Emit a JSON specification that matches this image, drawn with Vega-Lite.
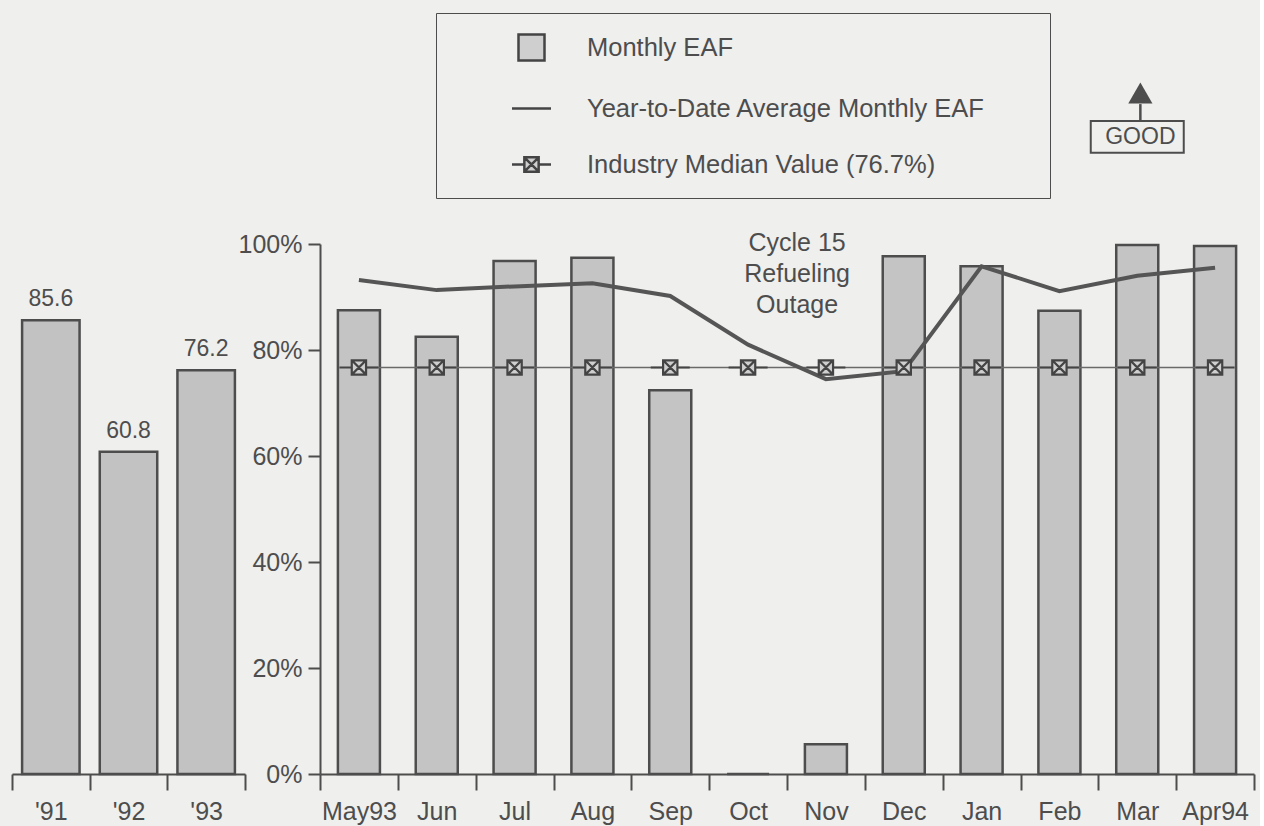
{
  "$schema": "https://vega.github.io/schema/vega-lite/v6.json",
  "background": "#efefed",
  "padding": {"left": 11, "top": 12, "right": 5, "bottom": 5},
  "bounds": "flush",
  "spacing": 75,
  "config": {
    "font": "Liberation Sans",
    "view": {"stroke": null},
    "axis": {
      "domainColor": "#4d4d4d", "domainWidth": 2, "tickColor": "#4d4d4d", "tickWidth": 2,
      "labelColor": "#4d4d4d", "labelFontSize": 25, "labelFont": "Liberation Sans",
      "grid": false, "title": null
    }
  },
  "datasets": {
    "annual": [
      {"year": "'91", "eaf": 85.6},
      {"year": "'92", "eaf": 60.8},
      {"year": "'93", "eaf": 76.2}
    ],
    "monthly": [
      {"month": "May93", "eaf": 87.5, "ytd": 93.2, "median": 76.7},
      {"month": "Jun", "eaf": 82.5, "ytd": 91.3, "median": 76.7},
      {"month": "Jul", "eaf": 96.8, "ytd": 92.0, "median": 76.7},
      {"month": "Aug", "eaf": 97.4, "ytd": 92.6, "median": 76.7},
      {"month": "Sep", "eaf": 72.4, "ytd": 90.2, "median": 76.7},
      {"month": "Oct", "eaf": 0, "ytd": 81.0, "median": 76.7},
      {"month": "Nov", "eaf": 5.6, "ytd": 74.5, "median": 76.7},
      {"month": "Dec", "eaf": 97.7, "ytd": 76.0, "median": 76.7},
      {"month": "Jan", "eaf": 95.8, "ytd": 95.8, "median": 76.7},
      {"month": "Feb", "eaf": 87.4, "ytd": 91.1, "median": 76.7},
      {"month": "Mar", "eaf": 99.8, "ytd": 94.0, "median": 76.7},
      {"month": "Apr94", "eaf": 99.6, "ytd": 95.5, "median": 76.7}
    ],
    "single": [{"n": 1}]
  },
  "hconcat": [
    {
      "width": 233,
      "height": 530,
      "data": {"name": "annual"},
      "encoding": {
        "x": {
          "field": "year", "type": "nominal", "sort": null,
          "scale": {"paddingInner": 0, "paddingOuter": 0},
          "axis": {"tickBand": "extent", "tickSize": 16, "labelPadding": 9, "labelAngle": 0}
        },
        "y": {"field": "eaf", "type": "quantitative", "scale": {"domain": [0, 100]}, "axis": null}
      },
      "layer": [
        {"mark": {"type": "bar", "width": {"band": 0.74}, "fill": "#c2c2c2", "stroke": "#4d4d4d", "strokeWidth": 2.5}},
        {
          "mark": {"type": "text", "baseline": "alphabetic", "dy": -14, "fontSize": 23, "fill": "#4d4d4d"},
          "encoding": {"text": {"field": "eaf", "type": "quantitative", "format": ".1f"}}
        }
      ]
    },
    {
      "width": 934,
      "height": 530,
      "encoding": {
        "x": {
          "field": "month", "type": "nominal", "sort": null,
          "scale": {"paddingInner": 0, "paddingOuter": 0},
          "axis": {"tickBand": "extent", "tickSize": 16, "labelPadding": 9, "labelAngle": 0}
        }
      },
      "layer": [
        {
          "data": {"name": "monthly"},
          "mark": {"type": "bar", "width": {"band": 0.54}, "fill": "#c4c4c4", "stroke": "#4d4d4d", "strokeWidth": 2.5},
          "encoding": {
            "y": {
              "field": "eaf", "type": "quantitative",
              "scale": {"domain": [0, 100]},
              "axis": {"values": [0, 20, 40, 60, 80, 100], "labelExpr": "datum.value + '%'", "tickSize": 12, "labelPadding": 6}
            }
          }
        },
        {
          "data": {"name": "monthly"},
          "mark": {"type": "line", "strokeWidth": 1.6, "color": "#6a6a6a"},
          "encoding": {"y": {"field": "median", "type": "quantitative"}}
        },
        {
          "data": {"name": "monthly"},
          "mark": {"type": "line", "strokeWidth": 4, "color": "#555555", "interpolate": "linear"},
          "encoding": {"y": {"field": "ytd", "type": "quantitative"}}
        },
        {
          "data": {"name": "monthly"},
          "mark": {"type": "point", "size": 676, "filled": false, "fill": "#cfcfcf", "stroke": "#444444", "strokeWidth": 2.2, "opacity": 1, "fillOpacity": 1, "strokeOpacity": 1},
          "encoding": {
            "y": {"field": "median", "type": "quantitative"},
            "shape": {
              "datum": "Industry Median Value (76.7%)",
              "scale": {
                "domain": ["Monthly EAF", "Year-to-Date Average Monthly EAF", "Industry Median Value (76.7%)"],
                "range": ["square", "M-1.5,0H1.5", "M-1.5,0H-0.55M0.55,0H1.5M-0.55,-0.55H0.55V0.55H-0.55ZM-0.55,-0.55L0.55,0.55M0.55,-0.55L-0.55,0.55"]
              },
              "legend": {
                "orient": "none", "legendX": 424, "legendY": -231, "direction": "vertical",
                "title": " ", "titleOrient": "right", "titlePadding": 45, "titleFontSize": 12,
                "padding": 20, "symbolOffset": 61, "labelOffset": 41, "rowPadding": 28, "symbolSize": 676,
                "symbolStrokeWidth": 2.5, "symbolOpacity": 1,
                "labelFontSize": 25.5, "labelColor": "#4d4d4d", "labelFont": "Liberation Sans", "labelLimit": 700,
                "strokeColor": "#4d4d4d", "fillColor": "#efefed"
              }
            }
          }
        },
        {
          "data": {"name": "single"},
          "mark": {"type": "text", "fontSize": 25, "fill": "#4d4d4d", "baseline": "alphabetic", "align": "center", "lineHeight": 31},
          "encoding": {
            "x": {"datum": "Nov", "bandPosition": 0.13},
            "y": {"datum": 98.7},
            "text": {"value": ["Cycle 15", "Refueling", "Outage"]}
          }
        },
        {
          "data": {"name": "single"},
          "mark": {"type": "bar", "width": 93, "fill": "#efefed", "stroke": "#4d4d4d", "strokeWidth": 2},
          "encoding": {
            "x": {"datum": "Mar", "bandPosition": 0.54},
            "y": {"datum": 123.2},
            "y2": {"datum": 117.2}
          }
        },
        {
          "data": {"name": "single"},
          "mark": {"type": "text", "fontSize": 23, "fill": "#4d4d4d", "baseline": "middle", "align": "center"},
          "encoding": {
            "x": {"datum": "Mar", "bandPosition": 0.54},
            "y": {"datum": 120.2},
            "text": {"value": "GOOD"}
          }
        },
        {
          "data": {"name": "single"},
          "mark": {"type": "rule", "stroke": "#4d4d4d", "strokeWidth": 2.5},
          "encoding": {
            "x": {"datum": "Mar", "bandPosition": 0.54},
            "y": {"datum": 126.4},
            "y2": {"datum": 123.2}
          }
        },
        {
          "data": {"name": "single"},
          "mark": {"type": "point", "shape": "M0,-1L1.1,0.9H-1.1Z", "size": 484, "filled": true, "fill": "#4d4d4d", "opacity": 1},
          "encoding": {
            "x": {"datum": "Mar", "bandPosition": 0.54},
            "y": {"datum": 128.4}
          }
        }
      ]
    }
  ]
}
